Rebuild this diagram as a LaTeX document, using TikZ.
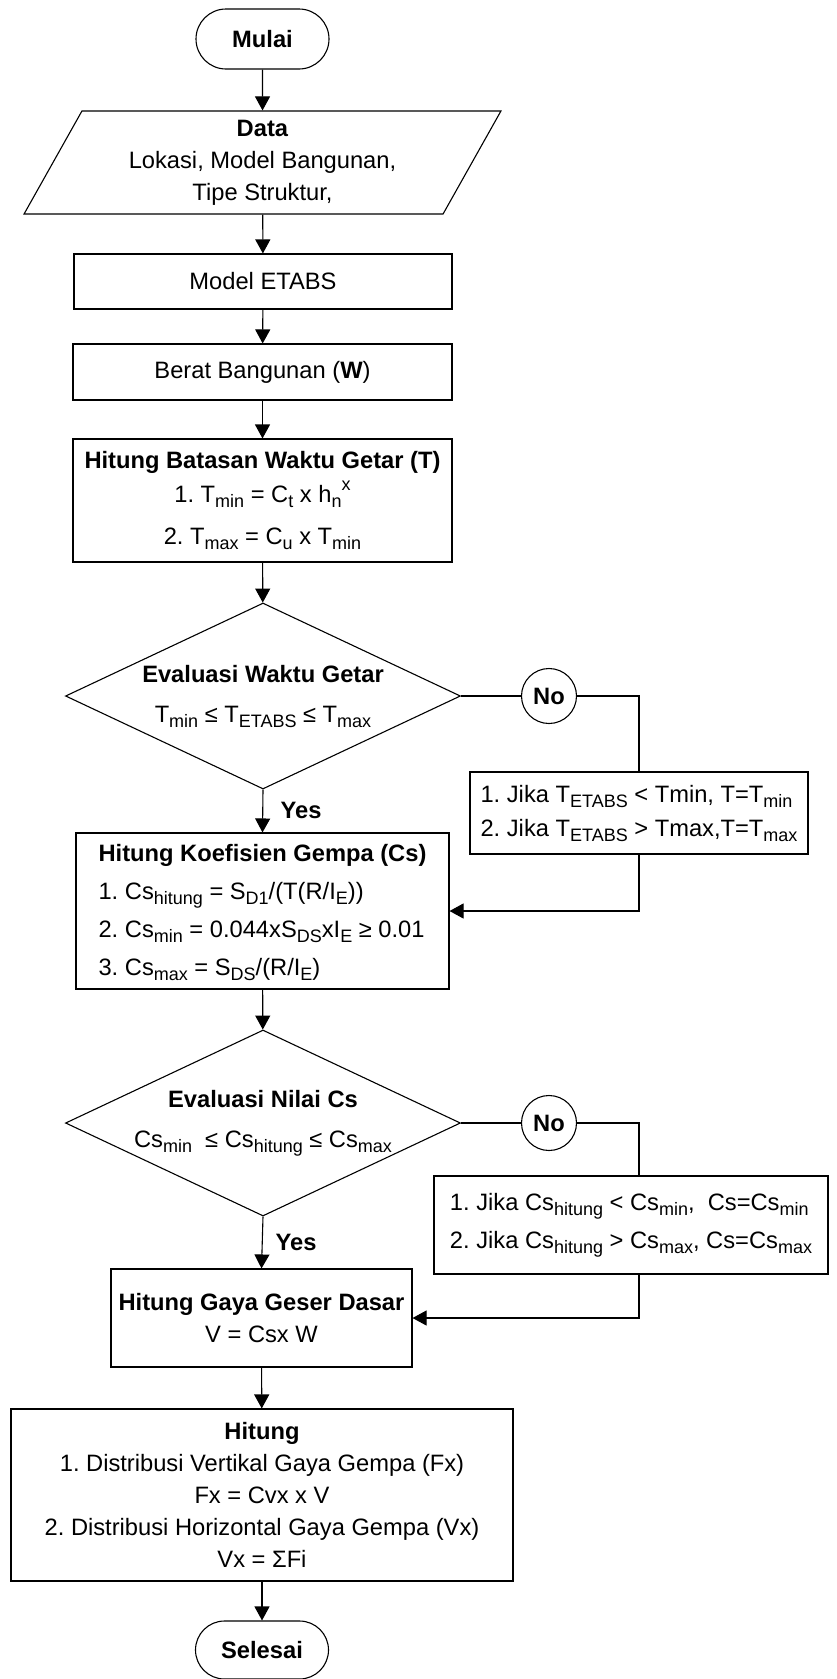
\documentclass[tikz,border=0pt]{standalone}
\usepackage{fontspec}
\setmainfont{Liberation Sans}
\usetikzlibrary{shapes.geometric,shapes.misc,arrows.meta}
\newcommand{\sbs}[1]{\raisebox{-5pt}{\fontsize{18}{18}\selectfont #1}}
\newcommand{\sps}[1]{\raisebox{12pt}{\fontsize{18}{18}\selectfont #1}}
\frenchspacing
\begin{document}
\begin{tikzpicture}[x=1pt,y=-1pt,
  base/.style={draw, line width=1.1pt, align=center, inner sep=2pt,
    font=\fontsize{23.7}{32}\selectfont},
  term/.style={base, rounded rectangle, minimum width=137pt, minimum height=60pt,
    font=\fontsize{23.7}{32}\selectfont\bfseries},
  io/.style={base, trapezium, trapezium left angle=64, trapezium right angle=116,
    trapezium stretches=true},
  proc/.style={base, rectangle},
  dec/.style={base, diamond, aspect=2.1, inner sep=0pt,
    minimum width=395pt, minimum height=186pt},
  conn/.style={base, circle, minimum size=55pt, inner sep=0pt,
    font=\fontsize{23.7}{32}\selectfont\bfseries},
  lbl/.style={font=\fontsize{23.7}{32}\selectfont\bfseries, inner sep=0pt},
  ln/.style={line width=1.1pt},
  arr/.style={line width=1.1pt, -{Triangle[length=14pt,width=15pt]}}
]
\useasboundingbox (0,0) rectangle (836,1679);

\node[term] (mulai) at (262.5,39) {Mulai};
\node[io, minimum width=479pt, minimum height=103pt] (data) at (262.5,162.5)
  {\textbf{Data}\\Lokasi, Model Bangunan,\\Tipe Struktur,};
\node[proc, minimum width=378pt, minimum height=55pt] (etabs) at (263,281.5) {Model ETABS};
\node[proc, minimum width=379pt, minimum height=56pt] (berat) at (262.5,372)
  {Berat Bangunan (\textbf{W})};
\node[proc, minimum width=379pt, minimum height=123pt] (batas) at (262.5,500.5)
  {\textbf{Hitung Batasan Waktu Getar (T)}\\[2pt]
   1. T\sbs{min} = C\sbs{t} x h\sbs{n}\sps{x}\\[10pt]
   2. T\sbs{max} = C\sbs{u} x T\sbs{min}};
\node[dec] (eval1) at (263,696)
  {\makebox[0pt]{\textbf{Evaluasi Waktu Getar}}\\[8pt]
   \makebox[0pt]{T\sbs{min} ≤ T\sbs{ETABS} ≤ T\sbs{max}}};
\node[conn] (no1) at (549,696) {No};
\node[proc, align=left, minimum width=338pt, minimum height=82pt] (jika1) at (639,813)
  {1. Jika T\sbs{ETABS} < Tmin, T=T\sbs{min}\\[2pt]
   2. Jika T\sbs{ETABS} > Tmax,T=T\sbs{max}};
\node[proc, minimum width=373pt, minimum height=154pt] (koef) at (262.5,911)
  {\fontsize{23.7}{38}\selectfont
   \begin{tabular}{@{}l@{}}
   \multicolumn{1}{@{}c@{}}{\textbf{Hitung Koefisien Gempa (Cs)}}\\
   1. Cs\sbs{hitung} = S\sbs{D1}/(T(R/I\sbs{E}))\\
   2. Cs\sbs{min} = 0.044xS\sbs{DS}xI\sbs{E} ≥ 0.01\\
   3. Cs\sbs{max} = S\sbs{DS}/(R/I\sbs{E})
   \end{tabular}};
\node[dec] (eval2) at (263,1123)
  {\makebox[0pt]{\textbf{Evaluasi Nilai Cs}}\\[8pt]
   \makebox[0pt]{Cs\sbs{min}\ \ ≤ Cs\sbs{hitung} ≤ Cs\sbs{max}}};
\node[conn] (no2) at (549,1123) {No};
\node[proc, align=left, minimum width=394pt, minimum height=98pt] (jika2) at (631,1225)
  {1. Jika Cs\sbs{hitung} < Cs\sbs{min},\ \ Cs=Cs\sbs{min}\\[6pt]
   2. Jika Cs\sbs{hitung} > Cs\sbs{max}, Cs=Cs\sbs{max}};
\node[proc, minimum width=301pt, minimum height=98pt] (gaya) at (261.5,1318)
  {\textbf{Hitung Gaya Geser Dasar}\\V = Csx W};
\node[proc, minimum width=502pt, minimum height=172pt] (hitung) at (262,1495)
  {\textbf{Hitung}\\
   1. Distribusi Vertikal Gaya Gempa (Fx)\\
   Fx = Cvx x V\\
   2. Distribusi Horizontal Gaya Gempa (Vx)\\
   Vx = ΣFi};
\node[term, minimum height=58pt] (selesai) at (262,1650) {Selesai};

\node[lbl] (yes1) at (301,810) {Yes};
\node[lbl] (yes2) at (296,1242) {Yes};

\draw[arr] (mulai) -- (data);
\draw[arr] (data) -- (etabs);
\draw[arr] (etabs) -- (berat);
\draw[arr] (berat) -- (batas);
\draw[arr] (batas) -- (eval1);
\draw[ln] (eval1.east) -- (no1.west);
\draw[ln] (no1.east) -| (jika1.north);
\draw[arr] (jika1.south) |- (koef.east);
\draw[arr] (eval1.south) -- (koef.north);
\draw[arr] (koef) -- (eval2);
\draw[ln] (eval2.east) -- (no2.west);
\draw[ln] (no2.east) -| ([xshift=8pt]jika2.north);
\draw[arr] ([xshift=8pt]jika2.south) |- (gaya.east);
\draw[arr] (eval2.south) -- (gaya.north);
\draw[arr] (gaya) -- (hitung);
\draw[arr] (hitung) -- (selesai);
\end{tikzpicture}
\end{document}
